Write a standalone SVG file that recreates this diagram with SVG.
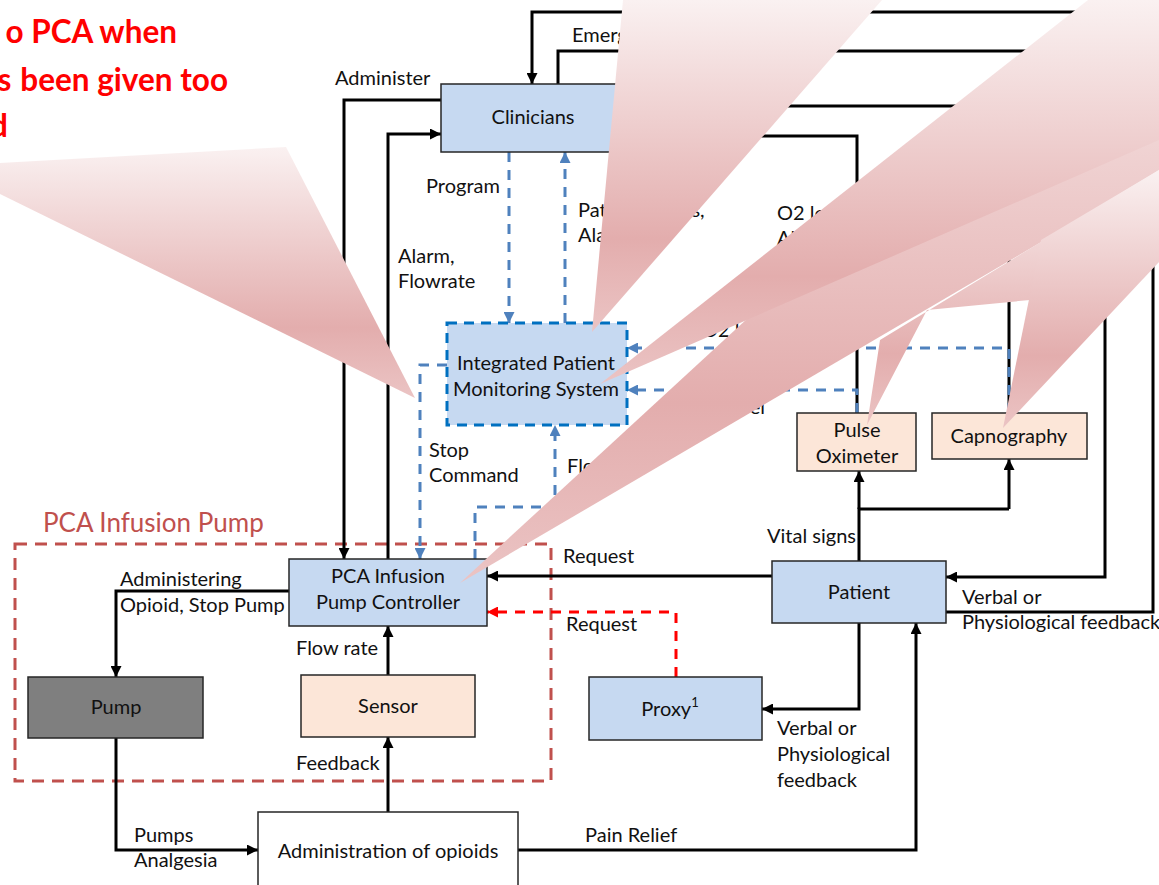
<svg xmlns="http://www.w3.org/2000/svg" width="1159" height="885" viewBox="0 0 1159 885">
  <defs>
    <style>
      text { font-family: Lato, "Open Sans", sans-serif; font-size: 20px; fill: #111; }
      .c { text-anchor: middle; }
      .box { stroke: #262626; stroke-width: 1.5; }
      .blue { fill: #C6D9F1; }
      .peach { fill: #FCE6D8; }
      .wire { fill: none; stroke: #000; stroke-width: 3; marker-end: url(#arrowK); }
      .plain { fill: none; stroke: #000; stroke-width: 3; }
      .dash { fill: none; stroke: #4F81BD; stroke-width: 3; stroke-dasharray: 10 8; marker-end: url(#arrowB); }
      .reddash { fill: none; stroke: #FF0000; stroke-width: 3; stroke-dasharray: 10 8; marker-end: url(#arrowR); }
      .callout { fill: url(#pinkFade); }
      .warn { font-weight: bold; font-size: 31.5px; fill: #FF0000; text-anchor: end; }
    </style>
    <marker id="arrowK" viewBox="0 0 10 10" refX="10" refY="5" markerWidth="11" markerHeight="11" markerUnits="userSpaceOnUse" orient="auto">
      <path d="M0,0 L10,5 L0,10 z" fill="#000"/>
    </marker>
    <marker id="arrowB" viewBox="0 0 10 10" refX="10" refY="5" markerWidth="11" markerHeight="11" markerUnits="userSpaceOnUse" orient="auto">
      <path d="M0,0 L10,5 L0,10 z" fill="#4F81BD"/>
    </marker>
    <marker id="arrowR" viewBox="0 0 10 10" refX="10" refY="5" markerWidth="11" markerHeight="11" markerUnits="userSpaceOnUse" orient="auto">
      <path d="M0,0 L10,5 L0,10 z" fill="#FF0000"/>
    </marker>
    <linearGradient id="pinkFade" x1="0" y1="0" x2="0" y2="1">
      <stop offset="0" stop-color="#FAF1F1"/>
      <stop offset="0.72" stop-color="#E3ADAD"/>
      <stop offset="1" stop-color="#EBC4C4"/>
    </linearGradient>
  </defs>

  <rect width="1159" height="885" fill="#fff"/>

  <!-- PCA infusion pump boundary -->
  <g id="pump-boundary">
    <rect x="15" y="544" width="536" height="237" fill="none" stroke="#C0504D" stroke-width="3" stroke-dasharray="12 8"/>
    <text x="43" y="532" style="font-size:26px; fill:#C0504D">PCA Infusion Pump</text>
  </g>

  <!-- connectors -->
  <g id="connectors">
    <path class="wire" d="M441,100 H344 V559"/>
    <path class="wire" d="M388,559 V134 H441"/>
    <path class="wire" d="M946,612 H1153 V12 H532 V84"/>
    <path class="wire" d="M558,84 V51 H1105 V577 H946"/>
    <path class="wire" d="M1009,413 V106 H625"/>
    <path class="wire" d="M857,413 V136 H625"/>
    <path class="wire" d="M289,591 H116 V677"/>
    <path class="wire" d="M388,675 V626"/>
    <path class="wire" d="M388,812 V737"/>
    <path class="wire" d="M116,738 V850 H258"/>
    <path class="wire" d="M518,850 H916 V623"/>
    <path class="wire" d="M772,576 H487"/>
    <path class="wire" d="M859,623 V709 H762"/>
    <path class="plain" d="M859,561 V509 H1009"/>
    <path class="wire" d="M1009,509 V459"/>
    <path class="wire" d="M859,509 V471"/>
    <path class="dash" d="M509,152 V323"/>
    <path class="dash" d="M565,323 V152"/>
    <path class="dash" d="M447,365 H420 V559"/>
    <path class="dash" d="M475,559 V507 H555 V425"/>
    <path class="dash" d="M1009,413 V348 H627"/>
    <path class="dash" d="M857,413 V390 H627"/>
    <path class="reddash" d="M676,677 V612 H487"/>
  </g>

  <!-- connector labels -->
  <g id="labels">
    <text x="335" y="85">Administer</text>
    <text x="572" y="42">Emergency</text>
    <text x="426" y="193">Program</text>
    <text x="398" y="263">Alarm,</text>
    <text x="398" y="288">Flowrate</text>
    <text x="578" y="217">Patient Status,</text>
    <text x="578" y="242">Alarm</text>
    <text x="777" y="220">O2 level,</text>
    <text x="777" y="245">Alarm</text>
    <text x="689" y="337">CO2 level</text>
    <text x="765" y="414" style="text-anchor:end">O2 level</text>
    <text x="429" y="457">Stop</text>
    <text x="429" y="482">Command</text>
    <text x="567" y="473">Flowrate</text>
    <text x="120" y="586">Administering</text>
    <text x="120" y="612">Opioid, Stop Pump</text>
    <text x="296" y="655">Flow rate</text>
    <text x="563" y="563">Request</text>
    <text x="566" y="631">Request</text>
    <text x="767" y="543">Vital signs</text>
    <text x="962" y="604">Verbal or</text>
    <text x="962" y="629">Physiological feedback</text>
    <text x="777" y="735">Verbal or</text>
    <text x="777" y="761">Physiological</text>
    <text x="777" y="787">feedback</text>
    <text x="296" y="770">Feedback</text>
    <text x="134" y="842">Pumps</text>
    <text x="134" y="867">Analgesia</text>
    <text x="585" y="842">Pain Relief</text>
  </g>

  <!-- nodes -->
  <g id="clinicians">
    <rect class="box blue" x="441" y="84" width="184" height="68"/>
    <text class="c" x="533" y="124">Clinicians</text>
  </g>
  <g id="monitoring-system">
    <rect x="447" y="323" width="180" height="102" fill="#C6D9F1" stroke="#0070C0" stroke-width="3" stroke-dasharray="10 7"/>
    <text class="c" x="536" y="370">Integrated Patient</text>
    <text class="c" x="536" y="396">Monitoring System</text>
  </g>
  <g id="pulse-oximeter">
    <rect class="box peach" x="797" y="413" width="119" height="58"/>
    <text class="c" x="857" y="437">Pulse</text>
    <text class="c" x="857" y="463">Oximeter</text>
  </g>
  <g id="capnography">
    <rect class="box peach" x="932" y="413" width="155" height="46"/>
    <text class="c" x="1009" y="443">Capnography</text>
  </g>
  <g id="pump-controller">
    <rect class="box blue" x="289" y="559" width="198" height="67"/>
    <text class="c" x="388" y="583">PCA Infusion</text>
    <text class="c" x="388" y="609">Pump Controller</text>
  </g>
  <g id="patient">
    <rect class="box blue" x="772" y="561" width="174" height="62"/>
    <text class="c" x="859" y="599">Patient</text>
  </g>
  <g id="proxy">
    <rect class="box blue" x="589" y="677" width="173" height="63"/>
    <text class="c" x="670" y="716">Proxy<tspan dy="-9" style="font-size:13px">1</tspan></text>
  </g>
  <g id="pump">
    <rect class="box" x="28" y="677" width="175" height="61" fill="#7F7F7F"/>
    <text class="c" x="116" y="714">Pump</text>
  </g>
  <g id="sensor">
    <rect class="box peach" x="301" y="675" width="174" height="62"/>
    <text class="c" x="388" y="713">Sensor</text>
  </g>
  <g id="administration">
    <rect class="box" x="258" y="812" width="260" height="80" fill="#fff"/>
    <text class="c" x="388" y="858">Administration of opioids</text>
  </g>

  <!-- warning callouts -->
  <g id="callouts">
    <polygon class="callout" points="0,163 286,147 415,398 0,194"/>
    <polygon class="callout" points="623,0 882,0 592,332"/>
    <polygon class="callout" points="1159,-60 1159,173 460,583"/>
    <polygon class="callout" points="867,425 880,340 1159,170 1159,262 1030,300 927,310"/>
    <polygon class="callout" points="1003,428 1041,240 1159,170 1159,262"/>
    <polygon class="callout" points="1088,0 1159,0 1159,140 600,384"/>
    <text class="warn" x="177" y="43">o PCA when</text>
    <text class="warn" x="228" y="91">s<tspan dx="9">been given too</tspan></text>
    <text class="warn" x="8" y="137">d</text>
  </g>
</svg>
